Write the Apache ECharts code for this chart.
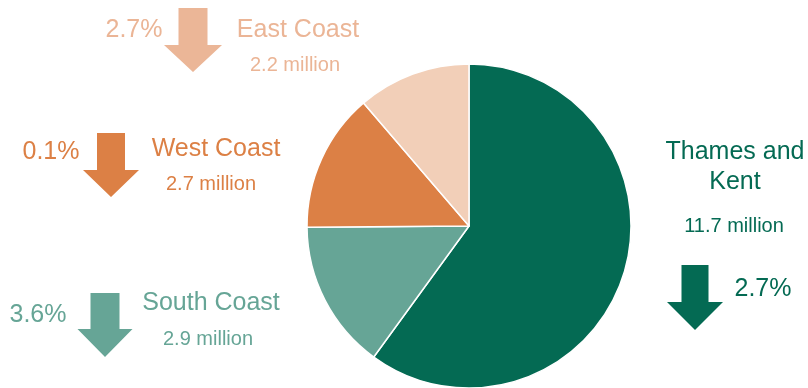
<!DOCTYPE html>
<html>
<head>
<meta charset="utf-8">
<script src="https://cdn.jsdelivr.net/npm/echarts@6/dist/echarts.min.js"></script>
<style>
  html, body { margin: 0; padding: 0; background: #ffffff; }
  #chart { width: 808px; height: 388px; }
</style>
</head>
<body>
<div id="chart"></div>
<script>
// Regions, in drawing order (clockwise from 12 o'clock)
const regions = ['Thames and Kent', 'South Coast', 'West Coast', 'East Coast'];
// Population, millions
const populations = [11.7, 2.9, 2.7, 2.2];
// Year-on-year change shown beside each arrow
const changes = ['2.7%', '3.6%', '0.1%', '2.7%'];

const sliceColors = ['#046a53', '#66a596', '#dc8045', '#f2cfb8'];
const textColors  = ['#046a53', '#66a596', '#dc8045', '#ebb596'];
const arrowColors = ['#046a53', '#66a596', '#dc8045', '#ebb697'];

const FONT = '"Liberation Sans", Arial, sans-serif';
const BIG = 25, SMALL = 20;

const chart = echarts.init(document.getElementById('chart'), null, { renderer: 'canvas' });

// Down arrow: shaft from top to headTop, triangular head down to tip
function downArrow(cx, top, shaftW, headTop, headW, tip, color) {
  const s = shaftW / 2, h = headW / 2;
  return {
    type: 'polygon',
    shape: { points: [
      [cx - s, top], [cx + s, top], [cx + s, headTop], [cx + h, headTop],
      [cx, tip], [cx - h, headTop], [cx - s, headTop]
    ] },
    style: { fill: color }
  };
}

function label(text, x, y, size, color, align) {
  return {
    type: 'text', x: x, y: y,
    style: {
      text: text, fill: color, font: size + 'px ' + FONT,
      align: align || 'center', verticalAlign: 'middle'
    }
  };
}

const mil = v => v.toFixed(1) + ' million';

const graphics = [
  // East Coast
  downArrow(193, 8, 29, 45, 58, 72, arrowColors[3]),
  label(changes[3], 134, 30, BIG, textColors[3]),
  label('East Coast', 298, 30, BIG, textColors[3]),
  label(mil(populations[3]), 295, 65, SMALL, textColors[3]),
  // West Coast
  downArrow(111, 133, 28, 170, 56, 197, arrowColors[2]),
  label(changes[2], 51, 152, BIG, textColors[2]),
  label('West Coast', 216, 149, BIG, textColors[2]),
  label(mil(populations[2]), 211, 184, SMALL, textColors[2]),
  // South Coast
  downArrow(105, 293, 29, 329, 55, 357, arrowColors[1]),
  label(changes[1], 38, 315, BIG, textColors[1]),
  label('South Coast', 211, 303, BIG, textColors[1]),
  label(mil(populations[1]), 208, 339, SMALL, textColors[1]),
  // Thames and Kent
  downArrow(695, 265, 27, 302, 56, 330, arrowColors[0]),
  label('Thames and', 735, 152, BIG, textColors[0]),
  label('Kent', 735, 182, BIG, textColors[0]),
  label(mil(populations[0]), 734, 226, SMALL, textColors[0]),
  label(changes[0], 763, 289, BIG, textColors[0])
];

chart.setOption({
  animation: false,
  backgroundColor: '#ffffff',
  series: [{
    type: 'pie',
    center: [469, 226],
    radius: [0, 162],
    startAngle: 90,
    clockwise: true,
    label: { show: false },
    labelLine: { show: false },
    emphasis: { disabled: true },
    itemStyle: { borderColor: '#ffffff', borderWidth: 1.5 },
    data: regions.map((name, i) => ({
      name: name,
      value: populations[i],
      itemStyle: { color: sliceColors[i] }
    }))
  }],
  graphic: graphics
});
</script>
</body>
</html>
